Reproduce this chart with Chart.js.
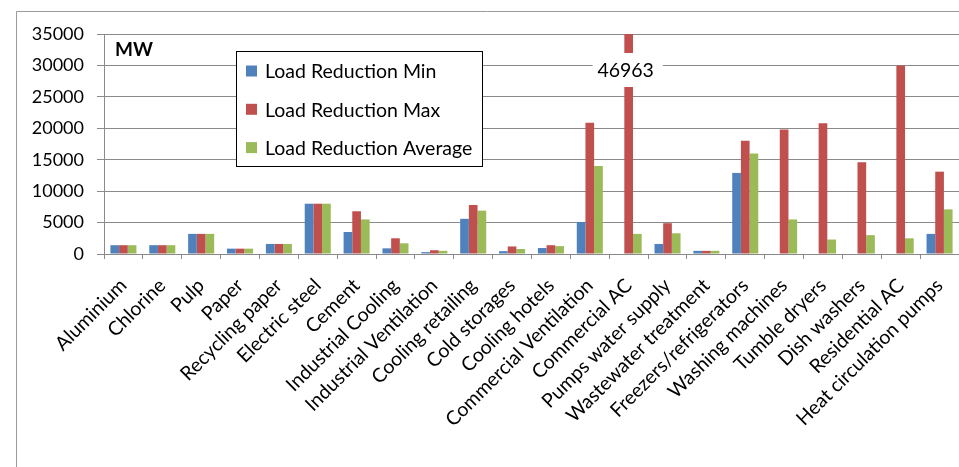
<!DOCTYPE html>
<html>
<head>
<meta charset="utf-8">
<title>Load reduction potential by sector</title>
<script src="https://cdn.jsdelivr.net/npm/chart.js@4.4.1/dist/chart.umd.min.js"></script>
<style>
html,body{margin:0;padding:0;background:#fff;}
#wrap{position:relative;width:959px;height:467px;}
</style>
</head>
<body>
<div id="wrap"><canvas id="chart" width="959" height="467"></canvas></div>
<script>
// ---- data ----
const categories=['Aluminium','Chlorine','Pulp','Paper','Recycling paper','Electric steel','Cement','Industrial Cooling','Industrial Ventilation','Cooling retailing','Cold storages','Cooling hotels','Commercial Ventilation','Commercial AC','Pumps water supply','Wastewater treatment','Freezers/refrigerators','Washing machines','Tumble dryers','Dish washers','Residential AC','Heat circulation pumps'];
const loadMin=[1400,1400,3200,850,1600,8000,3500,900,300,5600,450,950,5100,0,1600,500,12900,0,0,0,0,3200];
const loadMax=[1400,1400,3200,850,1600,8000,6800,2500,600,7800,1200,1400,20900,46963,4900,500,18000,19800,20800,14600,30000,13100];
const loadAvg=[1400,1400,3200,850,1600,8000,5500,1700,500,6900,800,1250,14000,3200,3300,500,16000,5500,2300,3000,2500,7100];
const seriesNames=['Load Reduction Min','Load Reduction Max','Load Reduction Average'];
const yTicks=[0,5000,10000,15000,20000,25000,30000,35000];
const unitLabel='MW';

const COLORS=['#4F81BD','#C0504D','#9BBB59'];
const FONT='Lato, "Open Sans", sans-serif';
const GRID='#8a8a8a';

// frame, unit label, legend box and the broken-bar callout
const decor={
  id:'decor',
  beforeDraw(chart){
    const c=chart.ctx;
    c.save();
    c.strokeStyle='#9a9a9a';c.lineWidth=1;
    c.beginPath();c.moveTo(16.5,chart.height);c.lineTo(16.5,11.5);c.lineTo(chart.width,11.5);c.stroke();
    c.restore();
  },
  afterDatasetsDraw(chart){
    const c=chart.ctx,a=chart.chartArea,y=chart.scales.y;
    c.save();
    // value too tall for the axis: cut the bar and print its value
    const meta=chart.getDatasetMeta(1);
    loadMax.forEach((v,i)=>{
      if(v<=y.max)return;
      const bar=meta.data[i];
      c.fillStyle='#fff';
      c.fillRect(bar.x-36,a.top+19,70,34);
      c.fillStyle='#000';c.font='19.5px '+FONT;c.textAlign='center';c.textBaseline='middle';
      c.fillText(String(v),bar.x-3,a.top+37);
    });
    // unit
    c.fillStyle='#000';c.font='bold 19px '+FONT;c.textAlign='left';c.textBaseline='middle';
    c.fillText(unitLabel,115,50);
    // legend
    const lx=236.5,ly=51.5,lw=246,lh=115;
    c.fillStyle='#fff';c.fillRect(lx,ly,lw,lh);
    c.strokeStyle='#000';c.lineWidth=1;c.strokeRect(lx,ly,lw,lh);
    c.font='19.5px '+FONT;
    seriesNames.forEach((n,i)=>{
      const cy=71+i*38.3;
      c.fillStyle=COLORS[i];c.fillRect(246,cy-5.5,11,11);
      c.fillStyle='#000';c.fillText(n,265,cy+1);
    });
    c.restore();
  }
};

new Chart(document.getElementById('chart'),{
  type:'bar',
  data:{labels:categories,datasets:[
    {label:seriesNames[0],data:loadMin,backgroundColor:COLORS[0]},
    {label:seriesNames[1],data:loadMax,backgroundColor:COLORS[1]},
    {label:seriesNames[2],data:loadAvg,backgroundColor:COLORS[2]}
  ]},
  options:{
    responsive:false,animation:false,
    layout:{padding:{top:34,left:0,right:0,bottom:0}},
    datasets:{bar:{categoryPercentage:0.67,barPercentage:1,borderWidth:0}},
    plugins:{legend:{display:false},tooltip:{enabled:false}},
    scales:{
      x:{
        grid:{display:true,drawOnChartArea:false,offset:true,color:GRID,tickLength:5},
        border:{color:GRID,width:1},
        ticks:{color:'#000',font:{family:FONT,size:19.5},minRotation:45,maxRotation:45,autoSkip:false,padding:15},
        // plot runs to the right edge; rotated labels may hang past it
        afterFit(s){s.height=213;s.paddingLeft=0;s.paddingRight=0;}
      },
      y:{
        min:0,max:35000,
        grid:{color:GRID,tickLength:7},
        border:{color:GRID,width:1},
        afterBuildTicks(s){s.ticks=yTicks.map(v=>({value:v}));},
        ticks:{color:'#000',font:{family:FONT,size:18},padding:13,callback:v=>String(v)},
        afterFit(s){s.width=104;s.paddingTop=0;s.paddingBottom=0;}
      }
    }
  },
  plugins:[decor]
});
</script>
</body>
</html>
